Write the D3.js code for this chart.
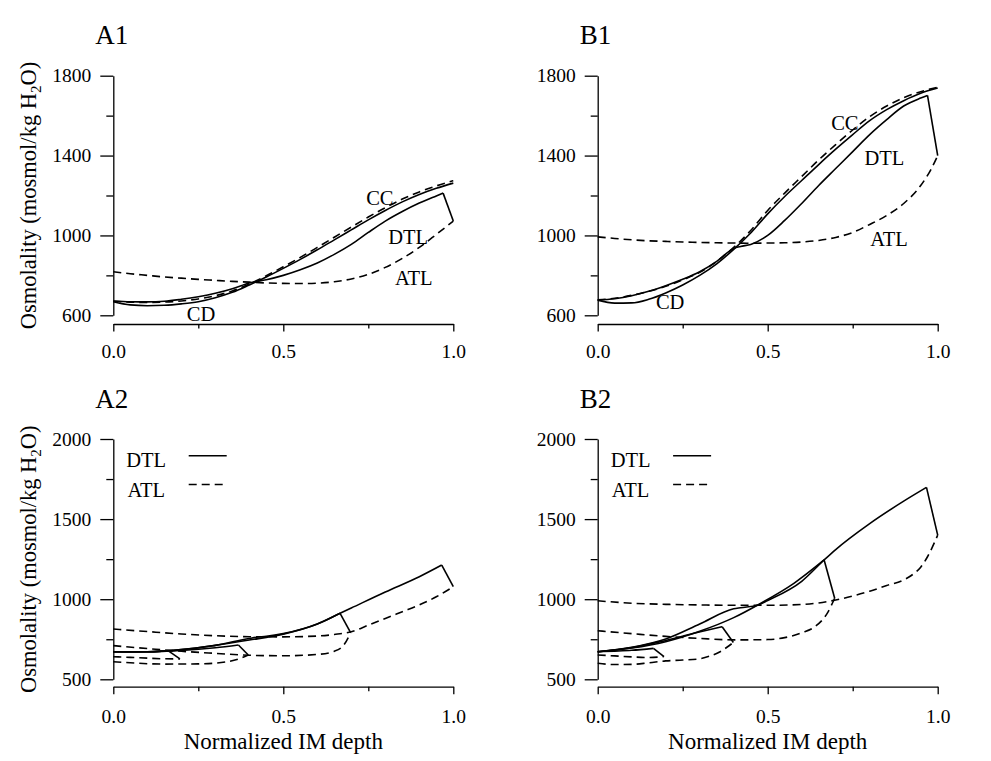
<!DOCTYPE html>
<html>
<head>
<meta charset="utf-8">
<script src="https://cdn.jsdelivr.net/npm/d3@7"></script>
<style>
  body { margin: 0; background: #fff; }
  text { font-family: 'Liberation Serif', 'Times New Roman', serif; fill: #000; }
</style>
</head>
<body>
<script>
// depth grid shared by the A1/B1 tubules that run the full length
const depthGrid = [0, 0.05, 0.1, 0.15, 0.2, 0.25, 0.3, 0.35, 0.4, 0.45, 0.5,
  0.55, 0.6, 0.65, 0.7, 0.75, 0.8, 0.85, 0.9, 0.95, 1.0]

// A1
const a1CC = [670, 666, 664, 666, 672, 682, 698, 722, 757, 798, 843, 890, 940, 991, 1042, 1092, 1139, 1182, 1218, 1248, 1274]
const a1CD = [668, 652, 648, 650, 657, 668, 688, 715, 752, 792, 835, 880, 928, 978, 1028, 1078, 1125, 1168, 1205, 1236, 1262]
const a1ATL = [818, 808, 800, 792, 786, 780, 775, 770, 766, 762, 760, 759, 761, 768, 782, 805, 840, 885, 940, 1005, 1072]
const a1DTL = [[0, 672], [0.05, 668], [0.1, 667], [0.15, 670], [0.2, 680], [0.25, 693], [0.3, 710], [0.35, 733], [0.4, 762],
  [0.45, 778], [0.5, 800], [0.55, 828], [0.6, 862], [0.65, 905], [0.7, 955], [0.75, 1015], [0.8, 1072], [0.85, 1120],
  [0.9, 1162], [0.95, 1198], [0.97, 1212]]

// B1
const b1CC = [678, 685, 700, 720, 745, 778, 815, 870, 940, 1025, 1125, 1212, 1295, 1378, 1455, 1528, 1595, 1648, 1690, 1720, 1742]
const b1CD = [676, 661, 662, 680, 712, 752, 800, 858, 930, 1012, 1108, 1195, 1275, 1355, 1432, 1505, 1575, 1630, 1675, 1712, 1738]
const b1ATL = [[0, 993], [0.05, 985], [0.1, 978], [0.15, 973], [0.2, 970], [0.25, 967], [0.3, 965], [0.35, 963], [0.4, 962],
  [0.45, 961], [0.5, 962], [0.55, 963], [0.6, 967], [0.65, 975], [0.7, 990], [0.75, 1015], [0.8, 1055], [0.85, 1100],
  [0.9, 1160], [0.95, 1250], [0.98, 1330], [1.0, 1400]]
const b1DTL = [[0, 676], [0.05, 683], [0.1, 698], [0.15, 720], [0.2, 748], [0.25, 780], [0.3, 818], [0.35, 870], [0.4, 935],
  [0.42, 945], [0.45, 955], [0.5, 1000], [0.55, 1075], [0.6, 1160], [0.65, 1250], [0.7, 1335], [0.75, 1420], [0.8, 1505],
  [0.85, 1580], [0.9, 1648], [0.95, 1688], [0.97, 1701]]

// A2: four loops of increasing length
const a2DTL = [
  [[0, 672], [0.05, 671], [0.1, 672], [0.162, 677]],
  [[0, 672], [0.1, 672], [0.2, 680], [0.3, 697], [0.368, 714]],
  [[0, 672], [0.1, 672], [0.2, 685], [0.3, 712], [0.4, 745], [0.5, 782], [0.6, 845], [0.667, 912]],
  [[0, 672], [0.1, 672], [0.2, 685], [0.3, 712], [0.4, 755], [0.42, 762], [0.45, 768], [0.5, 785], [0.6, 845],
    [0.667, 912], [0.7, 945], [0.8, 1045], [0.9, 1140], [0.966, 1213]]
]
const a2ATL = [
  [[0, 641], [0.05, 637], [0.1, 632], [0.15, 628], [0.196, 627]],
  [[0, 610], [0.05, 603], [0.15, 595], [0.25, 596], [0.33, 608], [0.37, 628], [0.397, 652]],
  [[0, 710], [0.1, 692], [0.2, 675], [0.3, 662], [0.4, 650], [0.5, 647], [0.6, 655], [0.65, 675], [0.68, 720], [0.698, 791]],
  [[0, 814], [0.1, 798], [0.2, 783], [0.3, 772], [0.4, 766], [0.5, 765], [0.6, 770], [0.65, 780], [0.7, 797],
    [0.75, 838], [0.8, 880], [0.85, 922], [0.9, 964], [0.95, 1015], [1.0, 1078]]
]

// B2
const b2DTL = [
  [[0, 672], [0.05, 676], [0.1, 681], [0.164, 693]],
  [[0, 672], [0.087, 693], [0.185, 735], [0.283, 787], [0.366, 828]],
  [[0, 672], [0.1, 695], [0.2, 735], [0.3, 800], [0.4, 885], [0.48, 975], [0.577, 1099], [0.666, 1245]],
  [[0, 672], [0.1, 700], [0.2, 752], [0.3, 845], [0.4, 940], [0.42, 947], [0.47, 962], [0.5, 992], [0.6, 1112],
    [0.666, 1245], [0.7, 1310], [0.8, 1472], [0.9, 1612], [0.967, 1698]]
]
const b2ATL = [
  [[0, 652], [0.05, 646], [0.1, 640], [0.15, 636], [0.195, 642]],
  [[0, 600], [0.05, 592], [0.1, 593], [0.15, 603], [0.2, 615], [0.25, 620], [0.3, 628], [0.33, 645], [0.36, 672],
    [0.38, 700], [0.399, 730]],
  [[0, 803], [0.1, 785], [0.2, 768], [0.3, 755], [0.4, 746], [0.5, 748], [0.55, 760], [0.6, 790], [0.64, 830],
    [0.675, 912], [0.697, 1006]],
  [[0, 990], [0.1, 975], [0.2, 968], [0.3, 964], [0.4, 962], [0.5, 962], [0.6, 967], [0.7, 995], [0.75, 1020],
    [0.8, 1050], [0.85, 1085], [0.9, 1120], [0.93, 1160], [0.95, 1200], [0.97, 1265], [1.0, 1400]]
]

const xMajor = [0, 0.5, 1]
const xMinor = [0.25, 0.75]
const yTopMajor = [600, 1000, 1400, 1800]
const yTopMinor = [800, 1200, 1600]
const yBotMajor = [500, 1000, 1500, 2000]
const yBotMinor = [750, 1250, 1750]

const W = 991
const H = 761
const dash = '8,5'

const svg = d3.select('body').append('svg')
  .attr('width', W)
  .attr('height', H)

const zip = (xs, ys) => xs.map((d, i) => [d, ys[i]])

const drawPanel = ({ left, top, bottom, xAxisY, yDomain, yMajor, yMinor, title, xPad, yTitle, xTitle }) => {
  const x = d3.scaleLinear().domain([0, 1]).range([left, left + 340])
  const y = d3.scaleLinear().domain(yDomain).range([bottom, top])
  const g = svg.append('g')

  g.append('g')
    .attr('transform', `translate(${left},0)`)
    .call(d3.axisLeft(y).tickValues(yMajor).tickSize(13).tickSizeOuter(0).tickPadding(9).tickFormat(d3.format('d')))
  g.append('g')
    .attr('transform', `translate(${left},0)`)
    .call(d3.axisLeft(y).tickValues(yMinor).tickSize(7).tickSizeOuter(0).tickFormat(''))
    .select('.domain').remove()

  g.append('g')
    .attr('transform', `translate(0,${xAxisY})`)
    .call(d3.axisBottom(x).tickValues(xMajor).tickSize(7.5).tickSizeOuter(0).tickPadding(xPad).tickFormat(d3.format('.1f')))
  g.append('g')
    .attr('transform', `translate(0,${xAxisY})`)
    .call(d3.axisBottom(x).tickValues(xMinor).tickSize(4.5).tickSizeOuter(0).tickFormat(''))
    .select('.domain').remove()

  g.selectAll('.tick text')
    .attr('font-family', "'Liberation Serif', serif")
    .attr('font-size', 19.5)
    .attr('fill', '#000')
  g.selectAll('.domain, .tick line')
    .attr('stroke', '#000')
    .attr('stroke-width', 1.3)

  g.append('text')
    .attr('x', left - 18)
    .attr('y', top - 31.5)
    .attr('font-size', 27)
    .text(title)

  if (yTitle) {
    const t = g.append('text')
      .attr('transform', `translate(28,${(top + bottom) / 2}) rotate(-90)`)
      .attr('text-anchor', 'middle')
      .attr('dy', '0.35em')
      .attr('font-size', 22.5)
    t.append('tspan').text('Osmolality (mosmol/kg H')
    t.append('tspan').attr('font-size', 15).attr('dy', 5).text('2')
    t.append('tspan').attr('dy', -5).text('O)')
  }
  if (xTitle) {
    g.append('text')
      .attr('x', left + 170)
      .attr('y', xAxisY + 62)
      .attr('text-anchor', 'middle')
      .attr('font-size', 23)
      .text('Normalized IM depth')
  }

  const line = d3.line()
    .x(d => x(d[0]))
    .y(d => y(d[1]))
    .curve(d3.curveMonotoneX)

  const draw = (pts, dashed) => g.append('path')
    .attr('d', line(pts))
    .attr('fill', 'none')
    .attr('stroke', '#000')
    .attr('stroke-width', 1.6)
    .attr('stroke-dasharray', dashed ? dash : null)

  // bend of a loop: last DTL point to the deepest ATL point
  const turn = (dtl, atl) => g.append('path')
    .attr('d', d3.line().x(d => x(d[0])).y(d => y(d[1]))([dtl[dtl.length - 1], atl[atl.length - 1]]))
    .attr('fill', 'none')
    .attr('stroke', '#000')
    .attr('stroke-width', 1.6)

  return { x, y, g, draw, turn }
}

const label = (g, px, py, txt) => g.append('text')
  .attr('x', px).attr('y', py)
  .attr('text-anchor', 'middle')
  .attr('dy', '0.35em')
  .attr('font-size', 20.5)
  .text(txt)

// ---- A1
const pA1 = drawPanel({
  left: 113.3, top: 75.7, bottom: 315.3, xAxisY: 324, yDomain: [600, 1800],
  yMajor: yTopMajor, yMinor: yTopMinor, title: 'A1', xPad: 13, yTitle: true
})
pA1.draw(zip(depthGrid, a1CC), true)
pA1.draw(zip(depthGrid, a1CD), false)
pA1.draw(zip(depthGrid, a1ATL), true)
pA1.draw(a1DTL, false)
pA1.turn(a1DTL, zip(depthGrid, a1ATL))
label(pA1.g, pA1.x(0.784), pA1.y(1190), 'CC')
label(pA1.g, pA1.x(0.867), pA1.y(991), 'DTL')
label(pA1.g, pA1.x(0.884), pA1.y(786), 'ATL')
label(pA1.g, pA1.x(0.258), pA1.y(606), 'CD')

// ---- B1
const pB1 = drawPanel({
  left: 597.7, top: 75.7, bottom: 315.3, xAxisY: 324, yDomain: [600, 1800],
  yMajor: yTopMajor, yMinor: yTopMinor, title: 'B1', xPad: 13, yTitle: false
})
pB1.draw(zip(depthGrid, b1CC), true)
pB1.draw(zip(depthGrid, b1CD), false)
pB1.draw(b1ATL, true)
pB1.draw(b1DTL, false)
pB1.turn(b1DTL, b1ATL)
label(pB1.g, pB1.x(0.727), pB1.y(1566), 'CC')
label(pB1.g, pB1.x(0.843), pB1.y(1387), 'DTL')
label(pB1.g, pB1.x(0.857), pB1.y(982), 'ATL')
label(pB1.g, pB1.x(0.213), pB1.y(668), 'CD')

// ---- A2 / B2
const loopPanel = (opts, dtls, atls) => {
  const p = drawPanel(Object.assign({
    top: 439, bottom: 679.3, xAxisY: 686.7, yDomain: [500, 2000],
    yMajor: yBotMajor, yMinor: yBotMinor, xPad: 15, xTitle: true
  }, opts))
  dtls.forEach((dtl, i) => {
    p.draw(atls[i], true)
    p.draw(dtl, false)
    p.turn(dtl, atls[i])
  })
  // legend
  const lx = opts.left + 13.4
  label(p.g, lx + 19.5, 460, 'DTL')
  label(p.g, lx + 19.5, 489.5, 'ATL')
  p.g.append('line').attr('x1', lx + 62).attr('x2', lx + 100).attr('y1', 455.7).attr('y2', 455.7)
    .attr('stroke', '#000').attr('stroke-width', 1.6)
  p.g.append('line').attr('x1', lx + 62).attr('x2', lx + 100).attr('y1', 484.5).attr('y2', 484.5)
    .attr('stroke', '#000').attr('stroke-width', 1.6).attr('stroke-dasharray', dash)
  return p
}

loopPanel({ left: 113.3, title: 'A2', yTitle: true }, a2DTL, a2ATL)
loopPanel({ left: 597.7, title: 'B2', yTitle: false }, b2DTL, b2ATL)
</script>
</body>
</html>
